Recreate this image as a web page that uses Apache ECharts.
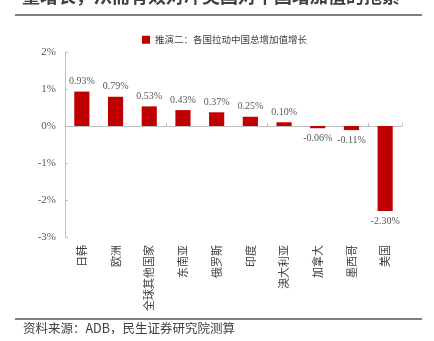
<!DOCTYPE html>
<html>
<head>
<meta charset="utf-8">
<script src="https://cdn.jsdelivr.net/npm/echarts@6/dist/echarts.min.js"></script>
<style>
html,body{margin:0;padding:0;background:#fff;}
#chart{width:434px;height:341px;}
</style>
</head>
<body>
<div id="chart"></div>
<script>
var categories = ['日韩', '欧洲', '全球其他国家', '东南亚', '俄罗斯', '印度', '澳大利亚', '加拿大', '墨西哥', '美国'];
var values = [0.93, 0.79, 0.53, 0.43, 0.37, 0.25, 0.10, -0.06, -0.11, -2.30];
var seriesName = '推演二：各国拉动中国总增加值增长';
var titleText = '量增长，从而有效对冲美国对中国增加值的拖累';
var sourceText = '资料来源：ADB，民生证券研究院测算';

var chart = echarts.init(document.getElementById('chart'));
var serif = '"Liberation Serif", "Times New Roman", serif';
var cjk = '"Noto Sans CJK SC", sans-serif';
chart.setOption({
  animation: false,
  backgroundColor: '#fff',
  grid: {left: 65, right: 32, top: 52, bottom: 104, containLabel: false},
  legend: {
    top: 30, left: 137,
    itemWidth: 8, itemHeight: 8, itemGap: 4,
    icon: 'rect',
    textStyle: {fontSize: 9.5, color: '#404040', fontFamily: cjk},
    data: [seriesName]
  },
  xAxis: [{
    type: 'category',
    data: categories,
    position: 'bottom',
    axisLine: {show: false, onZero: false},
    axisTick: {show: false},
    axisLabel: {rotate: 90, margin: 8, fontSize: 11, color: '#404040', fontFamily: cjk, interval: 0}
  }, {
    type: 'category',
    data: categories,
    position: 'bottom',
    axisLine: {show: true, onZero: true, lineStyle: {color: '#bfbfbf', width: 1}},
    axisTick: {show: true, inside: true, length: 3, lineStyle: {color: '#bfbfbf'}},
    axisLabel: {show: false}
  }],
  yAxis: {
    type: 'value',
    min: -3, max: 2, interval: 1,
    axisLine: {show: true, lineStyle: {color: '#bfbfbf'}},
    axisTick: {show: true, inside: true, length: 3, lineStyle: {color: '#bfbfbf'}},
    splitLine: {show: false},
    axisLabel: {formatter: '{value}%', fontSize: 11, color: '#595959', fontFamily: serif, margin: 9}
  },
  series: [{
    name: seriesName,
    type: 'bar',
    xAxisIndex: 0,
    data: values.map(function (v) {
      return v < 0 ? {value: v, label: {position: 'bottom'}} : v;
    }),
    barWidth: '45%',
    itemStyle: {color: '#c00000'},
    label: {
      show: true,
      fontSize: 10, color: '#595959', fontFamily: serif,
      position: 'top', distance: 5,
      formatter: function (p) { return p.value.toFixed(2) + '%'; }
    }
  }],
  graphic: [
    {type: 'text', left: 22, top: -13, style: {text: titleText, fontSize: 18, fontWeight: 'bold', fill: '#404040', fontFamily: cjk}},
    {type: 'rect', shape: {x: 15, y: 14, width: 407, height: 2}, style: {fill: '#7f7f7f'}},
    {type: 'rect', shape: {x: 15, y: 318, width: 407, height: 2}, style: {fill: '#7f7f7f'}},
    {type: 'text', left: 23, top: 322, style: {text: sourceText, fontSize: 12.5, fill: '#404040', fontFamily: cjk}}
  ]
});
</script>
</body>
</html>
